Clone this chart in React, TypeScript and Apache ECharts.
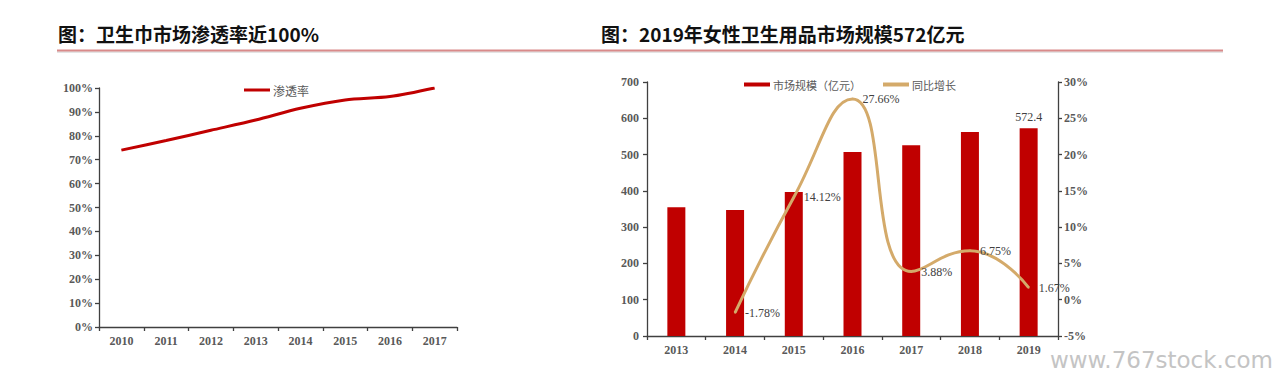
import React, { useEffect, useRef } from "react";
import * as echarts from "echarts";

const penYears = ["2010", "2011", "2012", "2013", "2014", "2015", "2016", "2017"];
const penValues = [74, 78, 82.3, 86.6, 91.5, 95, 96.4, 100];

const mktYears = ["2013", "2014", "2015", "2016", "2017", "2018", "2019"];
const mktSize = [355, 347, 397, 507, 526, 562, 572.4];
const mktGrowth: (number | string)[] = ["-", -1.78, 14.12, 27.66, 3.88, 6.75, 1.67];

const leftTitle = "图：卫生巾市场渗透率近100%";
const rightTitle = "图：2019年女性卫生用品市场规模572亿元";
const watermark = "www.767stock.com";

const SERIF = "'Liberation Serif', 'Times New Roman', serif";
const CJK = "'Noto Sans CJK SC', sans-serif";
const AXIS_COLOR = "#404040";
const LABEL_COLOR = "#595959";

export default function App() {
  const ref = useRef<HTMLDivElement>(null);
  useEffect(() => {
    if (!ref.current) return;
    const chart = echarts.init(ref.current, undefined, { renderer: "svg" });
    const axisLabel = {
      fontFamily: SERIF,
      fontWeight: "bold" as const,
      fontSize: 12,
      color: LABEL_COLOR,
    };
    const axisLine = { show: true, lineStyle: { color: AXIS_COLOR, width: 1.3 } };
    const axisTick = { show: true, length: 4, lineStyle: { color: AXIS_COLOR, width: 1.3 } };
    chart.setOption({
      animation: false,
      backgroundColor: "#ffffff",
      graphic: [
        {
          type: "text",
          left: 58,
          top: 24,
          style: { text: leftTitle, font: `bold 19px ${CJK}`, fill: "#111" },
        },
        {
          type: "text",
          left: 601,
          top: 24,
          style: { text: rightTitle, font: `bold 19px ${CJK}`, fill: "#111" },
        },
        {
          type: "rect",
          shape: { x: 57, y: 51, width: 1166, height: 2 },
          style: { fill: "#e4e4e4" },
        },
        {
          type: "rect",
          shape: { x: 57, y: 49.5, width: 1166, height: 2 },
          style: { fill: "#d98a8a" },
        },
        {
          type: "text",
          left: 1050,
          top: 348,
          style: { text: watermark, font: `23px 'DejaVu Sans', sans-serif`, fill: "#c4c4c4" },
        },
      ],
      legend: [
        {
          left: 244,
          top: 84,
          padding: 0,
          data: ["渗透率"],
          icon: "rect",
          itemWidth: 26,
          itemHeight: 3,
          itemGap: 4,
          textStyle: { fontFamily: CJK, fontSize: 12, color: LABEL_COLOR, padding: [0, 0, 0, -2] },
        },
        {
          left: 744,
          top: 79,
          padding: 0,
          data: [
            { name: "市场规模（亿元）", icon: "rect" },
            { name: "同比增长", icon: "rect" },
          ],
          itemWidth: 26,
          itemHeight: 4,
          itemGap: 22,
          textStyle: { fontFamily: CJK, fontSize: 11, color: LABEL_COLOR, padding: [0, 0, 0, -2] },
        },
      ],
      grid: [
        { left: 99, top: 88, width: 358, height: 239 },
        { left: 647, top: 82, width: 411, height: 254 },
      ],
      xAxis: [
        {
          type: "category",
          gridIndex: 0,
          data: penYears,
          boundaryGap: true,
          axisLine,
          axisTick: { ...axisTick, interval: 0 },
          axisLabel: { ...axisLabel, margin: 8, interval: 0 },
        },
        {
          type: "category",
          gridIndex: 1,
          data: mktYears,
          boundaryGap: true,
          axisLine,
          axisTick: { ...axisTick, interval: 0 },
          axisLabel: { ...axisLabel, margin: 8, interval: 0 },
        },
      ],
      yAxis: [
        {
          type: "value",
          gridIndex: 0,
          min: 0,
          max: 100,
          interval: 10,
          axisLine,
          axisTick,
          splitLine: { show: false },
          axisLabel: { ...axisLabel, formatter: "{value}%", margin: 6 },
        },
        {
          type: "value",
          gridIndex: 1,
          min: 0,
          max: 700,
          interval: 100,
          axisLine,
          axisTick,
          splitLine: { show: false },
          axisLabel: { ...axisLabel, margin: 8 },
        },
        {
          type: "value",
          gridIndex: 1,
          position: "right",
          min: -5,
          max: 30,
          interval: 5,
          axisLine,
          axisTick,
          splitLine: { show: false },
          axisLabel: { ...axisLabel, formatter: "{value}%", margin: 6 },
        },
      ],
      series: [
        {
          name: "渗透率",
          type: "line",
          xAxisIndex: 0,
          yAxisIndex: 0,
          data: penValues,
          smooth: 0.3,
          symbol: "none",
          lineStyle: { color: "#c00000", width: 3 },
          itemStyle: { color: "#c00000" },
        },
        {
          name: "市场规模（亿元）",
          type: "bar",
          xAxisIndex: 1,
          yAxisIndex: 1,
          barWidth: 18,
          itemStyle: { color: "#c00000" },
          data: mktSize.map((v, i) =>
            i === mktSize.length - 1
              ? {
                  value: v,
                  label: {
                    show: true,
                    position: "top",
                    distance: 5,
                    fontFamily: SERIF,
                    fontSize: 12,
                    color: "#404040",
                  },
                }
              : v
          ),
        },
        {
          name: "同比增长",
          type: "line",
          xAxisIndex: 1,
          yAxisIndex: 2,
          data: mktGrowth,
          smooth: 0.5,
          symbol: "circle",
          symbolSize: 2,
          showSymbol: true,
          lineStyle: { color: "#d4aa6a", width: 3 },
          itemStyle: { color: "#d4aa6a" },
          label: {
            show: true,
            position: "right",
            distance: 9,
            formatter: (p: any) => `${p.value}%`,
            fontFamily: SERIF,
            fontSize: 12,
            color: "#404040",
          },
        },
      ],
    });
    return () => chart.dispose();
  }, []);
  return (
    <div
      ref={ref}
      style={{ position: "absolute", left: 0, top: 0, width: 1272, height: 386 }}
    />
  );
}
